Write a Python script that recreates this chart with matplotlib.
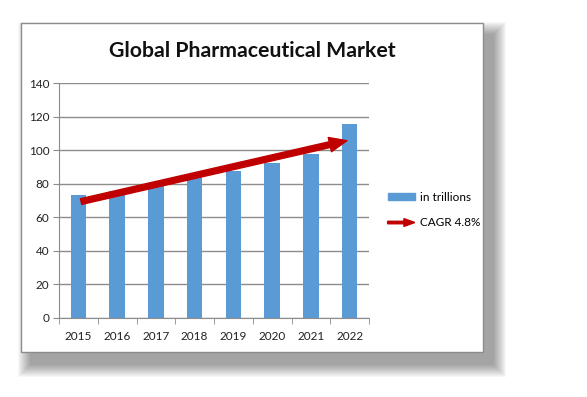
import matplotlib.pyplot as plt
import matplotlib.patches as mpatches
from matplotlib.legend_handler import HandlerPatch

years = ['2015', '2016', '2017', '2018', '2019', '2020', '2021', '2022']
market = [73.5, 75.5, 79.5, 84, 87.5, 92.5, 97.5, 115.5]
cagr_start = 69
cagr_end = 106

plt.rcParams['font.family'] = ['Lato', 'DejaVu Sans']

fig = plt.figure(figsize=(5.87, 3.97), dpi=100)
W, H = 587, 397

# soft shadow (bottom-right) + frame
fx0, fy0, fx1, fy1 = 21, 23, 483, 352
dx, dy = 10, 12
for i in range(13, 0, -1):
    fig.patches.append(mpatches.Rectangle(
        ((fx0 + dx - i) / W, (H - fy1 - dy - i) / H),
        (fx1 - fx0 + 2 * i) / W, (fy1 - fy0 + 2 * i) / H,
        transform=fig.transFigure, facecolor='black', edgecolor='none',
        alpha=0.03, zorder=0))
fig.patches.append(mpatches.Rectangle(
    (fx0 / W, (H - fy1) / H), (fx1 - fx0) / W, (fy1 - fy0) / H,
    transform=fig.transFigure, facecolor='white', edgecolor='#8c8c8c',
    linewidth=1, zorder=1))

ax = fig.add_axes([59 / W, (H - 318) / H, (369 - 59) / W, (318 - 83) / H])
ax.set_zorder(2)
ax.patch.set_alpha(0)

x = range(len(years))
ax.bar(x, market, width=0.4, color='#5b9bd5', zorder=2)

arrow = mpatches.FancyArrowPatch(
    (0, cagr_start), (7, cagr_end),
    arrowstyle='simple,head_width=1.5,head_length=1.8,tail_width=0.6',
    mutation_scale=7, color='#c00000', zorder=3)
ax.add_patch(arrow)

ax.set_xlim(-0.5, 7.5)
ax.set_ylim(0, 140)
ax.set_yticks(range(0, 141, 20))
ax.set_xticks(list(x))
ax.set_xticklabels(years)
ax.set_xticks([i - 0.5 for i in range(9)], minor=True)
ax.tick_params(axis='x', which='major', length=0, pad=9, labelsize=8.5, colors='#222222')
ax.tick_params(axis='x', which='minor', length=4, color='#8c8c8c', direction='out')
ax.tick_params(axis='y', length=4, color='#8c8c8c', labelsize=8.5, labelcolor='#222222', pad=3)
ax.yaxis.grid(True, color='#8c8c8c', linewidth=1, zorder=0)
ax.set_axisbelow(True)
for s in ['top', 'right']:
    ax.spines[s].set_visible(False)
for s in ['left', 'bottom']:
    ax.spines[s].set_color('#8c8c8c')

fig.text(252 / W, 1 - 51 / H, 'Global Pharmaceutical Market', ha='center', va='center',
         fontsize=15.3, fontweight='bold', color='#111111', zorder=5)


def make_arrow(legend, orig_handle, xdescent, ydescent, width, height, fontsize):
    return mpatches.FancyArrow(0, height / 2, width, 0, width=height * 0.35,
                               head_width=height * 1.1, head_length=width * 0.4,
                               length_includes_head=True, color='#c00000')


arrow_proxy = mpatches.Patch(color='#c00000')
handles = [mpatches.Patch(color='#5b9bd5'), arrow_proxy]
leg = fig.legend(handles, ['in trillions', 'CAGR 4.8%'],
                 handler_map={arrow_proxy: HandlerPatch(patch_func=make_arrow)},
                 loc='center left', bbox_to_anchor=(377 / W, 1 - 210 / H),
                 frameon=False, fontsize=8.5, handlelength=2.3, handleheight=0.55,
                 handletextpad=0.4, labelspacing=1.2)
leg.set_zorder(5)

fig.savefig('out.png', dpi=100)
